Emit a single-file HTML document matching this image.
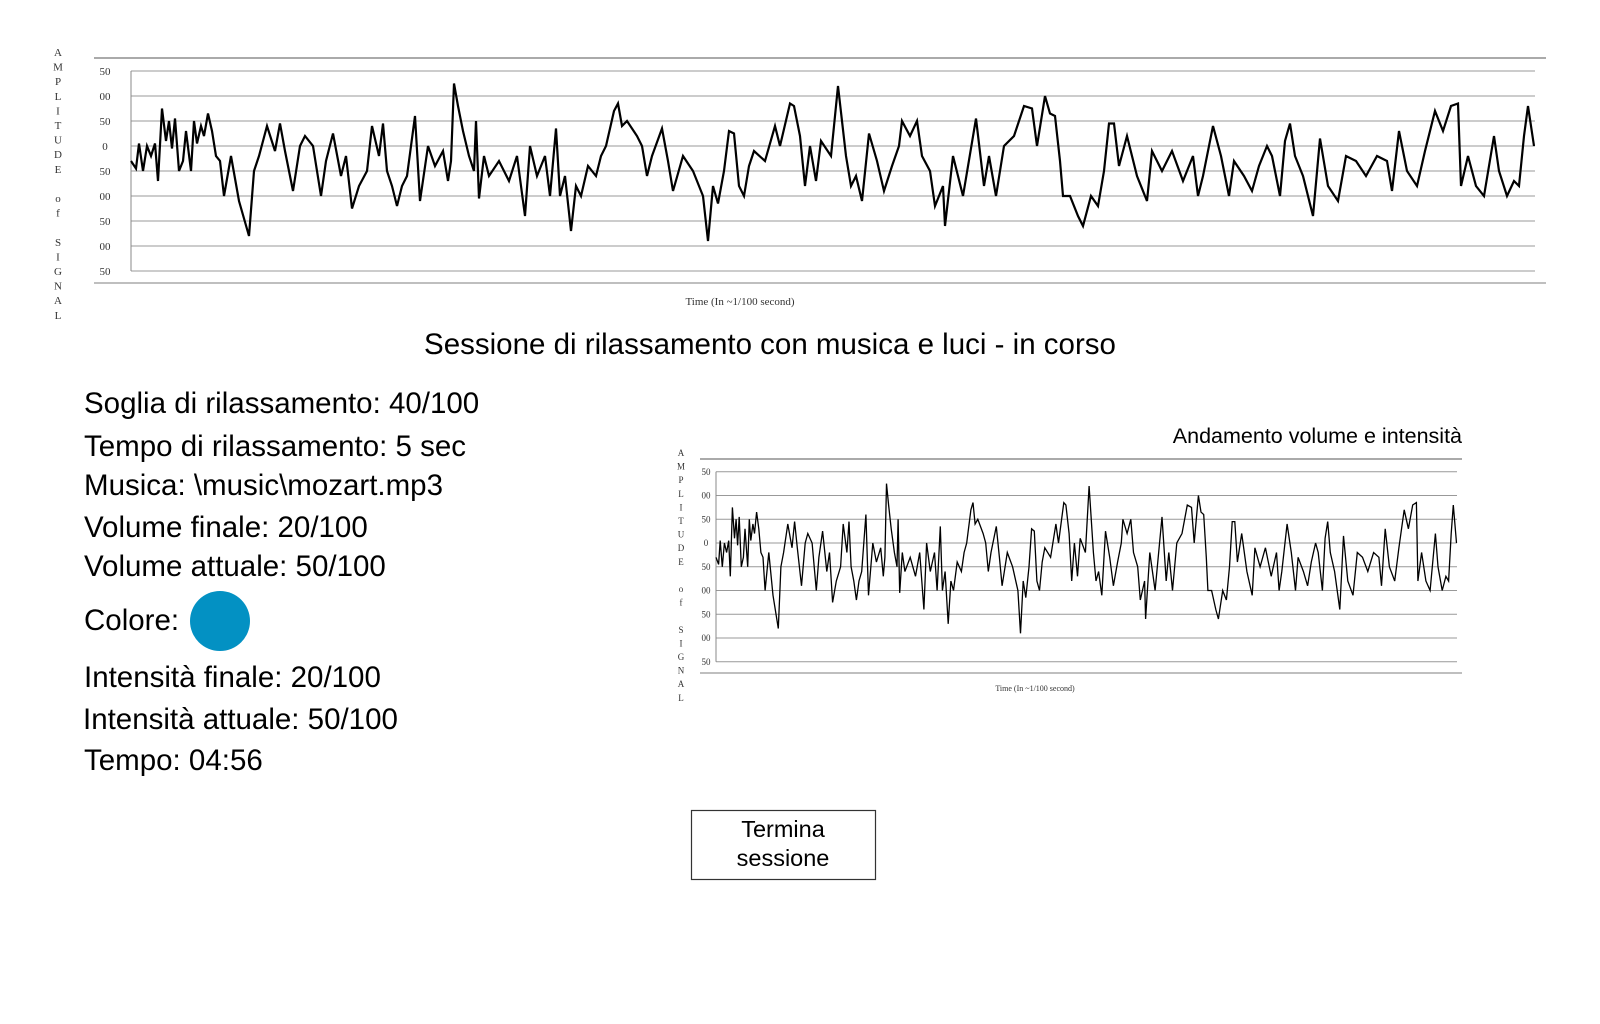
<!DOCTYPE html>
<html><head><meta charset="utf-8"><style>
html,body{margin:0;padding:0;background:#fff;width:1600px;height:1024px;overflow:hidden}
svg{display:block}
.info{font-family:"Liberation Sans",sans-serif;font-size:29.5px;fill:#000}
.tick{font-family:"Liberation Serif",serif;fill:#333}
</style></head><body>
<svg id="page" width="1600" height="1024" viewBox="0 0 1600 1024" xmlns="http://www.w3.org/2000/svg">
<g id="chartTop"></g>
<text x="770" y="354" text-anchor="middle" font-family="Liberation Sans, sans-serif" font-size="29.5">Sessione di rilassamento con musica e luci - in corso</text>
<text class="info" x="84" y="413">Soglia di rilassamento: 40/100</text>
<text class="info" x="84" y="456">Tempo di rilassamento: 5 sec</text>
<text class="info" x="84" y="495">Musica: \music\mozart.mp3</text>
<text class="info" x="84" y="537">Volume finale: 20/100</text>
<text class="info" x="84" y="576">Volume attuale: 50/100</text>
<text class="info" x="84" y="630">Colore:</text>
<circle cx="220" cy="621" r="30" fill="#0391c3"/>
<text class="info" x="84" y="687">Intensità finale: 20/100</text>
<text class="info" x="83" y="729">Intensità attuale: 50/100</text>
<text class="info" x="84" y="770">Tempo: 04:56</text>
<text x="1462" y="443" text-anchor="end" font-family="Liberation Sans, sans-serif" font-size="21.5">Andamento volume e intensità</text>
<g id="chartBottom"></g>
<g>
<rect x="691.5" y="810.5" width="184" height="69" fill="#fff" stroke="#333" stroke-width="1.2"/>
<text x="783" y="837" text-anchor="middle" font-family="Liberation Sans, sans-serif" font-size="23.5">Termina</text>
<text x="783" y="866" text-anchor="middle" font-family="Liberation Sans, sans-serif" font-size="23.5">sessione</text>
</g>
</svg>
<script>
const yTickLabels=["50","00","50","0","50","00","50","00","50"];
const yTickValues=[150,100,50,0,-50,-100,-150,-200,-250];
const axisLetters=["A","M","P","L","I","T","U","D","E","","o","f","","S","I","G","N","A","L"];
const signalTimes=[0,5,8,12,16,20,24,27,31,35,38,41,44,48,52,55,60,63,66,70,73,77,81,85,89,93,100,108,118,123,128,136,144,149,154,162,169,174,182,190,195,202,210,215,221,228,236,241,248,252,256,261,266,271,276,284,289,297,304,312,317,320,323,327,332,338,343,345,348,353,358,368,378,386,394,399,406,414,419,425,429,434,440,445,450,457,465,470,475,483,487,491,496,506,511,516,521,531,537,542,552,562,572,577,582,587,593,598,603,608,613,618,623,634,644,649,659,663,669,674,679,685,690,700,707,715,720,725,731,738,746,753,761,768,771,779,786,791,799,804,812,814,822,832,845,853,858,865,873,883,893,901,906,914,919,924,929,932,939,947,952,960,967,973,978,983,988,996,1006,1016,1021,1031,1041,1052,1062,1067,1072,1082,1090,1098,1103,1113,1121,1128,1136,1141,1149,1154,1159,1164,1172,1182,1189,1197,1207,1215,1225,1235,1246,1256,1261,1268,1276,1286,1294,1304,1312,1320,1327,1330,1337,1345,1353,1363,1368,1376,1383,1388,1393,1397,1403];
const signalValues=[-30,-45,5,-50,0,-20,5,-70,75,10,50,-5,55,-50,-30,30,-50,50,5,40,20,65,30,-20,-30,-100,-20,-110,-180,-50,-20,40,-10,45,-10,-90,0,20,0,-100,-30,25,-60,-20,-125,-80,-50,40,-20,45,-50,-80,-120,-80,-60,60,-110,0,-40,-10,-70,-30,125,80,30,-20,-50,50,-105,-20,-60,-30,-70,-20,-140,0,-60,-20,-100,35,-100,-60,-170,-80,-100,-40,-60,-20,0,70,85,40,50,20,0,-60,-20,35,-30,-90,-20,-50,-100,-190,-80,-115,-50,30,25,-80,-100,-40,-10,-30,40,0,85,80,20,-80,0,-70,10,-20,120,-20,-80,-60,-110,25,-30,-90,-40,0,50,20,50,-20,-50,-120,-80,-160,-20,-100,55,-80,-20,-100,0,20,80,75,0,100,65,60,-30,-100,-100,-140,-160,-100,-120,-50,45,45,-40,20,-60,-110,-10,-50,-10,-70,-20,-100,-60,40,-20,-100,-30,-60,-90,-40,0,-20,-100,10,45,-20,-60,-140,15,-80,-110,-20,-30,-60,-20,-30,-90,30,-50,-80,-10,70,30,80,85,-80,-20,-80,-100,20,-50,-100,-70,-80,20,80,0];
const timeLabel="Time (In ~1/100 second)";
const NS="http://www.w3.org/2000/svg";
function mk(g,tag,attrs,txt){const e=document.createElementNS(NS,tag);for(const k in attrs)e.setAttribute(k,attrs[k]);if(txt!==undefined)e.textContent=txt;g.appendChild(e);return e;}
function drawChart(g,c){
  const tMax=1404;
  const xS=t=>c.x0+(t/tMax)*(c.x1-c.x0);
  const yS=v=>c.yZero-v*c.pxPer50/50;
  const top=mk(g,'line',{x1:c.bx0,x2:c.bx1,y1:c.bTop,y2:c.bTop,stroke:'#777','stroke-width':1.2});
  
  
  const bot=mk(g,'line',{x1:c.bx0,x2:c.bx1,y1:c.bBot,y2:c.bBot,stroke:'#999','stroke-width':1.2});
  
  
  yTickValues.forEach((v,i)=>{
    const gl=mk(g,'line',{x1:c.x0,x2:c.gx1,y1:yS(v),y2:yS(v),stroke:'#999','stroke-width':1});
    
    
    const tl=mk(g,'text',{x:c.lx,y:yS(v)+c.fs*0.35,'text-anchor':'middle','font-size':c.fs,class:'tick'},yTickLabels[i]);
    
    
  });
  const ax=mk(g,'line',{x1:c.x0,x2:c.x0,y1:yS(150),y2:yS(-250),stroke:'#888','stroke-width':1});
  
  
  axisLetters.forEach((L,i)=>{
    if(!L)return;
    const t=mk(g,'text',{x:c.vx,y:c.vy+i*c.vStep,'text-anchor':'middle','font-size':c.fs,class:'tick'},L);
    
    
  });
  const tt=mk(g,'text',{x:c.tx,y:c.ty,'text-anchor':'middle','font-size':c.tfs,class:'tick'},timeLabel);
  
  
  const d=signalTimes.map((t,i)=>(i?'L':'M')+xS(t).toFixed(1)+' '+yS(signalValues[i]).toFixed(1)).join(' ');
  const p=mk(g,'path',{d:d,fill:'none',stroke:'#000','stroke-width':c.sw,'stroke-linejoin':'miter'});
  
  
}
drawChart(document.getElementById('chartTop'),{x0:131,x1:1535,gx1:1535,bx0:94,bx1:1546,bTop:58,bBot:283,yZero:146,pxPer50:25,lx:105,fs:11,vx:58,vy:56,vStep:14.6,tx:740,ty:305,tfs:11,sw:2.2});
drawChart(document.getElementById('chartBottom'),{x0:716,x1:1457,gx1:1457,bx0:700,bx1:1462,bTop:459,bBot:673,yZero:543,pxPer50:23.75,lx:706,fs:9,vx:681,vy:456,vStep:13.6,tx:1035,ty:691,tfs:8,sw:1.3});
</script>
</body></html>
